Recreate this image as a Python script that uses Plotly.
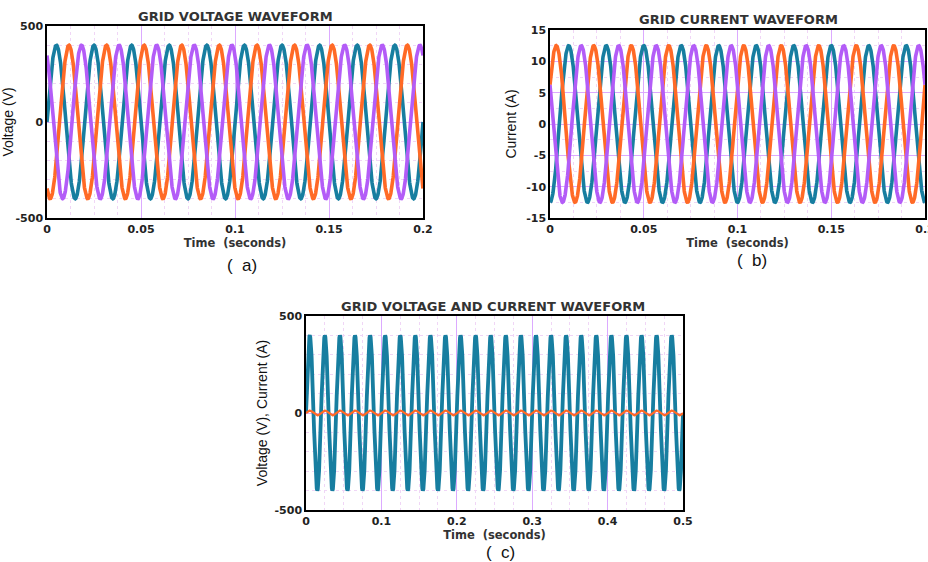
import numpy as np
import plotly.graph_objects as go

# ---- data (sinusoid parameters) ----
freq_hz = 50
phase_names = ["Phase A", "Phase B", "Phase C"]
phase_colors = ["#177ea0", "#ff6a26", "#b35cf7"]

# (a) grid voltage: peak amplitude and phase angle (deg)
volt_amp = [400, 400, 400]
volt_phase_deg = [0, -120, 120]

# (b) grid current
curr_amp = [12.5, 12.5, 12.5]
curr_phase_deg = [-90, 30, 150]

# (c) single-phase voltage & current
vc_amp = [400, 12.5]
vc_phase_deg = [0, 0]
vc_colors = ["#177ea0", "#ff6a26"]

t_ab = np.linspace(0, 0.2, 2001)
t_c = np.linspace(0, 0.5, 5001)

def wave(t, amp, ph):
    return amp * np.sin(2 * np.pi * freq_hz * t + np.deg2rad(ph))

xa_ticks = [0, 0.05, 0.1, 0.15, 0.2]
xa_text = ["0", "0.05", "0.1", "0.15", "0.2"]
ya_ticks = [-500, 0, 500]
ya_text = ["-500", "0", "500"]
yb_ticks = [-15, -10, -5, 0, 5, 10, 15]
yb_text = ["-15", "-10", "-5", "0", "5", "10", "15"]
xc_ticks = [0, 0.1, 0.2, 0.3, 0.4, 0.5]
xc_text = ["0", "0.1", "0.2", "0.3", "0.4", "0.5"]

fig = go.Figure()
for i in range(3):
    fig.add_trace(go.Scatter(x=t_ab, y=wave(t_ab, volt_amp[i], volt_phase_deg[i]),
                             mode="lines", line=dict(color=phase_colors[i], width=3.6),
                             name=phase_names[i], xaxis="x", yaxis="y", showlegend=False))
for i in range(3):
    fig.add_trace(go.Scatter(x=t_ab, y=wave(t_ab, curr_amp[i], curr_phase_deg[i]),
                             mode="lines", line=dict(color=phase_colors[i], width=3.6),
                             name=phase_names[i], xaxis="x2", yaxis="y2", showlegend=False))
for i in range(2):
    fig.add_trace(go.Scatter(x=t_c, y=wave(t_c, vc_amp[i], vc_phase_deg[i]),
                             mode="lines", line=dict(color=vc_colors[i], width=3.8 if i == 0 else 2.2),
                             xaxis="x3", yaxis="y3", showlegend=False))

W, H = 928, 562
def px_x(a, b):
    return [a / W, b / W]
def px_y(top, bot):
    return [1 - bot / H, 1 - top / H]

tickfont = dict(family="DejaVu Sans", size=11, color="#222222", weight="bold")
major = "#dcaaff"
minor_c = "#f0d6f6"

def xax(domain, anchor, rng, tv, tt, mdt):
    return dict(domain=domain, anchor=anchor, range=rng, tickvals=tv, ticktext=tt,
                automargin=False, ticklabeloverflow="allow",
                showline=True, mirror=True, linecolor="black", linewidth=1.5,
                showgrid=True, gridcolor=major, gridwidth=1.3, zeroline=False, ticks="",
                tickfont=tickfont,
                minor=dict(dtick=mdt, showgrid=True, griddash="dot", gridcolor=minor_c, gridwidth=1),
                title=dict(text="Time  (seconds)", font=dict(family="DejaVu Sans", size=11.5,
                                                              color="#333333", weight="bold"),
                           standoff=4))

def yax(domain, anchor, rng, tv, tt, mdt, title, standoff):
    return dict(domain=domain, anchor=anchor, range=rng, tickvals=tv, ticktext=tt,
                automargin=False, ticklabeloverflow="allow",
                showline=True, mirror=True, linecolor="black", linewidth=1.5,
                showgrid=True, gridcolor=major, gridwidth=1.3, zeroline=False, ticks="",
                tickfont=tickfont,
                minor=dict(dtick=mdt, showgrid=True, griddash="dot", gridcolor=minor_c, gridwidth=1),
                title=dict(text=title, font=dict(family="Liberation Sans Narrow, Liberation Sans",
                                                 size=14, color="#111111"), standoff=standoff))

fig.update_layout(
    width=W, height=H, margin=dict(l=0, r=0, t=0, b=0, autoexpand=False),
    paper_bgcolor="white", plot_bgcolor="white",
    xaxis=xax(px_x(47, 423), "y", [0, 0.2], xa_ticks, xa_text, 0.0125),
    yaxis=yax(px_y(26, 218), "x", [-500, 500], ya_ticks, ya_text, 100, "Voltage (V)", 0),
    xaxis2=xax(px_x(550, 925), "y2", [0, 0.2], xa_ticks, xa_text, 0.0125),
    yaxis2=yax(px_y(30, 218), "x2", [-15, 15], yb_ticks, yb_text, 2.5, "Current (A)", 6),
    xaxis3=xax(px_x(306, 683), "y3", [0, 0.5], xc_ticks, xc_text, 0.025),
    yaxis3=yax(px_y(316, 510), "x3", [-500, 500], ya_ticks, ya_text, 100,
               "Voltage (V), Current (A)", 4),
)

titles = [("GRID VOLTAGE WAVEFORM", 235, 16), ("GRID CURRENT WAVEFORM", 738, 19),
          ("GRID VOLTAGE AND CURRENT WAVEFORM", 493, 306)]
for txt, cx, cy in titles:
    fig.add_annotation(text=txt, x=cx / W, y=1 - cy / H, xref="paper", yref="paper",
                       showarrow=False, xanchor="center", yanchor="middle",
                       font=dict(family="DejaVu Sans", size=13, color="#333333", weight="bold"))

labels = [("(  a)", 242, 265), ("(  b)", 752, 260), ("(  c)", 500, 552)]
for txt, cx, cy in labels:
    fig.add_annotation(text=txt, x=cx / W, y=1 - cy / H, xref="paper", yref="paper",
                       showarrow=False, xanchor="center", yanchor="middle",
                       font=dict(family="Liberation Sans", size=17, color="#111111"))

fig.write_html("out.html", config={"displayModeBar": False},
               post_script="document.body.style.margin='0px';document.body.style.overflow='hidden';")
